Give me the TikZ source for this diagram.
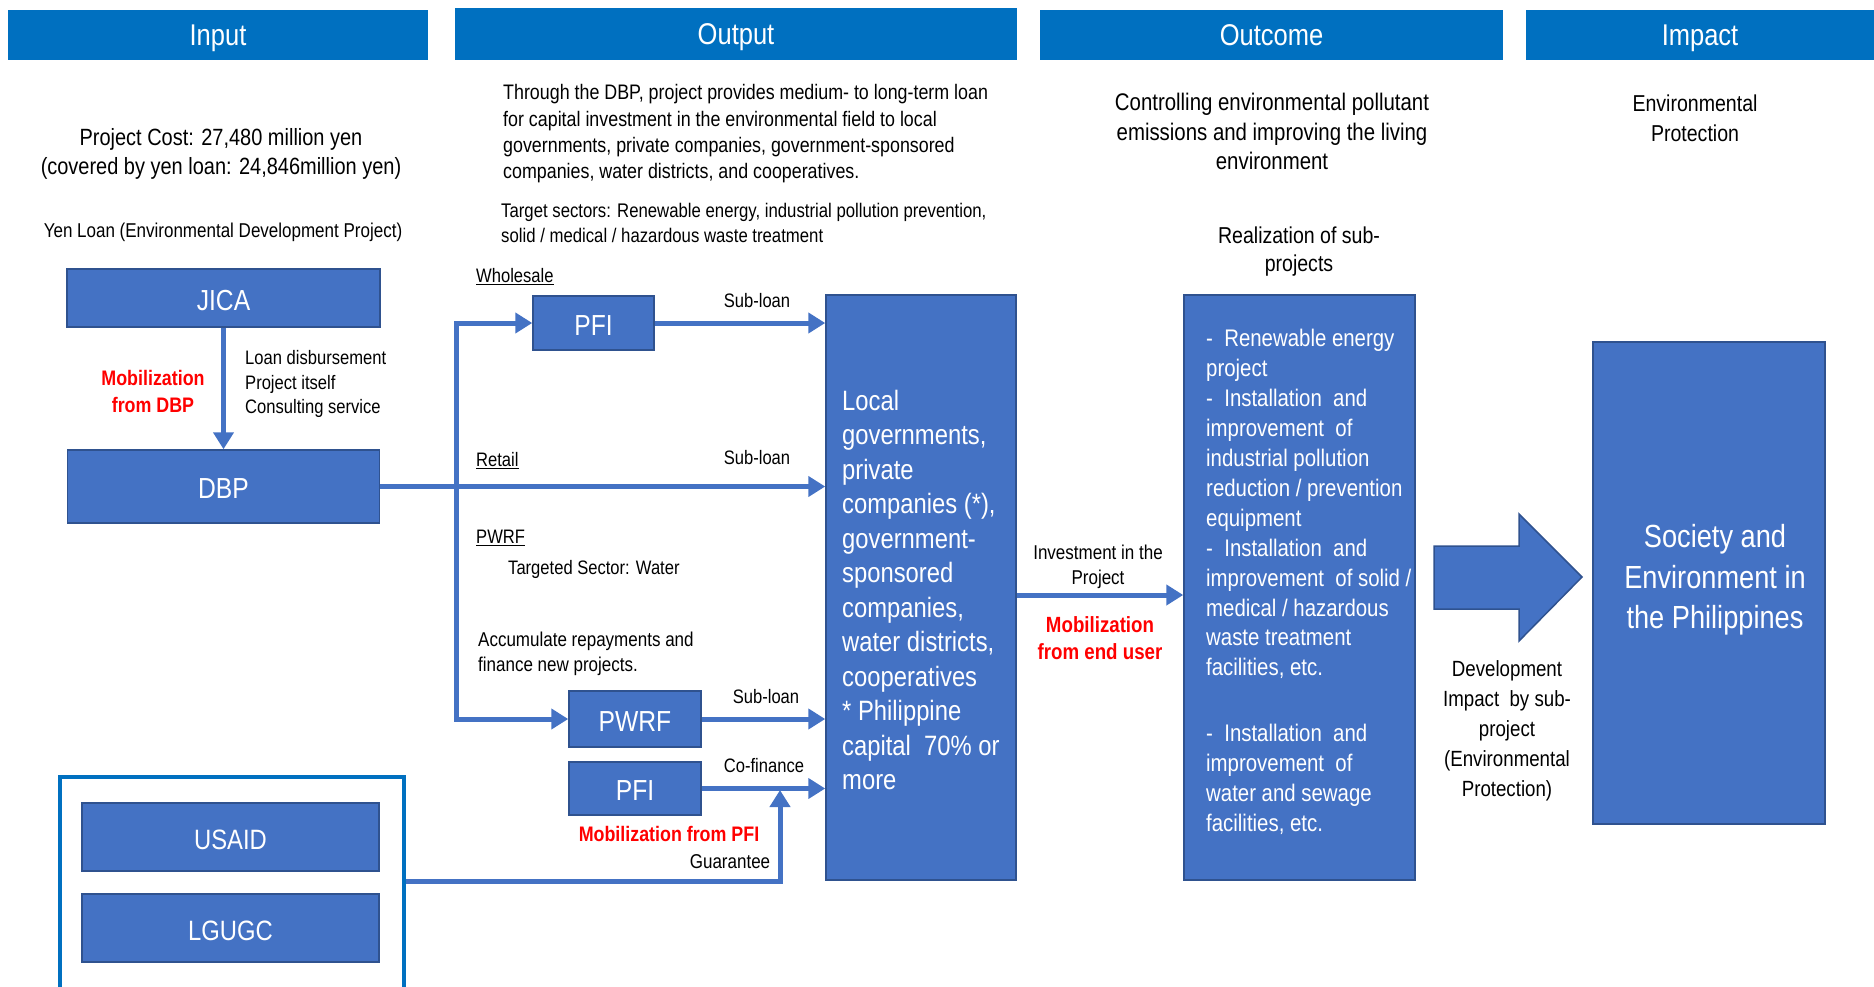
\documentclass[tikz,border=0pt]{standalone}
\usepackage{fontspec}
\setmainfont{Liberation Sans}[FakeStretch=0.85]
\usetikzlibrary{arrows.meta,calc}
\definecolor{hdrblue}{HTML}{0070C0}
\definecolor{boxblue}{HTML}{4472C4}
\definecolor{boxline}{HTML}{2F528F}
\definecolor{mobred}{HTML}{FF0000}
\newcommand\fsz[2]{\fontsize{#1pt}{#2pt}\selectfont}
\begin{document}
\begin{tikzpicture}[x=1pt,y=-1pt,
  hdr/.style={fill=hdrblue, text=white, minimum height=50pt, inner sep=0pt, text depth=0pt, font=\fsz{30}{34}},
  bx/.style={fill=boxblue, draw=boxline, line width=1.5pt, text=white, inner sep=0pt, font=\fsz{29}{34}, text depth=0pt, text height=24pt},
  plainbx/.style={fill=boxblue, draw=boxline, line width=1.5pt, inner sep=0pt},
  txt/.style={inner sep=0pt, text=black},
  mob/.style={inner sep=0pt, text=mobred, font=\fsz{21}{27}\bfseries},
  lbl/.style={inner sep=0pt, text=black, font=\fsz{19.5}{24}},
  flow/.style={draw=boxblue, line width=5pt, -{Triangle[length=17pt,width=20pt]}},
  flow2/.style={draw=boxblue, line width=5pt, {Triangle[length=17pt,width=20pt]}-{Triangle[length=17pt,width=20pt]}},
]
\useasboundingbox (0,0) rectangle (1874,986);

% headers
\node[hdr, minimum width=420pt] (hin) at (218,35) {Input};
\node[hdr, minimum width=562pt, minimum height=52pt] (hout) at (736,34) {Output};
\node[hdr, minimum width=463pt] (hoc) at (1271.5,35) {Outcome};
\node[hdr, minimum width=348pt] (him) at (1700,35) {Impact};

% input column
\node[txt, align=center, font=\fsz{23.5}{28.5}] (cost) at (221,154) {Project Cost: 27,480 million yen\\(covered by yen loan: 24,846million yen)};
\node[lbl, font=\fsz{20}{24}] (yen) at (223,232) {Yen Loan (Environmental Development Project)};
\node[bx, minimum width=313pt, minimum height=58pt] (jica) at (223.5,298) {JICA};
\node[bx, minimum width=312pt, minimum height=73pt] (dbp) at (223.5,486.5) {DBP};
\draw[flow] (jica) -- (dbp);
\node[mob, align=center] (mobdbp) at (153,391) {Mobilization\\from DBP};
\node[lbl, anchor=west, align=left, font=\fsz{19.5}{24.5}] (loan) at (245,384) {Loan disbursement\\Project itself\\Consulting service};

% output column texts
\node[txt, anchor=west, align=left, font=\fsz{21}{26.3}] (through) at (503,134) {Through the DBP, project provides medium- to long-term loan\\for capital investment in the environmental field to local\\governments, private companies, government-sponsored\\companies, water districts, and cooperatives.};
\node[txt, anchor=west, align=left, font=\fsz{19.7}{25}] (target) at (501,223) {Target sectors: Renewable energy, industrial pollution prevention,\\solid / medical / hazardous waste treatment};

\node[lbl, anchor=west] (whs) at (476,277) {\underline{Wholesale}};
\node[lbl, anchor=west] (ret) at (476,461) {\underline{Retail}};
\node[lbl, anchor=west] (pwrflbl) at (476,538) {\underline{PWRF}};
\node[lbl, anchor=west] (tsw) at (508,569) {Targeted Sector: Water};
\node[lbl, anchor=west, align=left, font=\fsz{20}{25}] (acc) at (478,654) {Accumulate repayments and\\finance new projects.};

% big target box
\node[plainbx, minimum width=190pt, minimum height=585pt] (big) at (921,587.5) {};
\node[txt, text=white, anchor=west, align=left, font=\fsz{28}{34.5}] (bigtxt) at (842,590) {Local\\governments,\\private\\companies (*),\\government-\\sponsored\\companies,\\water districts,\\cooperatives\\* Philippine\\capital~ 70\% or\\more};

% intermediaries
\node[bx, minimum width=121pt, minimum height=54pt] (pfi1) at (593.5,323) {PFI};
\node[bx, minimum width=132pt, minimum height=56pt] (pwrf) at (635,719) {PWRF};
\node[bx, minimum width=132pt, minimum height=53pt] (pfi2) at (635,788.5) {PFI};

\draw[flow2] (pfi1.west) -- ++(-76,0) |- (pwrf.west);
\draw[flow] (dbp.east) -- (dbp.east -| big.west);
\draw[flow] (pfi1.east) -- (pfi1.east -| big.west);
\draw[flow] (pwrf.east) -- (pwrf.east -| big.west);
\draw[flow] (pfi2.east) -- (pfi2.east -| big.west);

\node[lbl] (sl1) at (757,301) {Sub-loan};
\node[lbl] (sl2) at (757,458) {Sub-loan};
\node[lbl] (sl3) at (766,697) {Sub-loan};
\node[lbl] (cof) at (764,766) {Co-finance};
\node[mob] (mobpfi) at (669,834) {Mobilization from PFI};
\node[lbl, font=\fsz{20}{24}] (guar) at (730,862) {Guarantee};

% guarantors
\node[draw=hdrblue, line width=4.5pt, minimum width=344pt, minimum height=226pt, inner sep=0pt] (outer) at (232,890) {};
\node[bx, minimum width=297pt, minimum height=68pt, font=\fsz{28}{32}] (usaid) at (230.5,837) {USAID};
\node[bx, minimum width=297pt, minimum height=68pt, font=\fsz{28}{32}] (lgugc) at (230.5,928) {LGUGC};
\coordinate (gy) at (0,881);
\coordinate (gtip) at (780,790);
\draw[flow] (outer.east |- gy) -| (gtip);

% outcome column
\node[txt, align=center, font=\fsz{24}{29.5}] (octop) at (1272,131.5) {Controlling environmental pollutant\\emissions and improving the living\\environment};
\node[txt, align=center, font=\fsz{23}{28}] (real) at (1299,252) {Realization of sub-\\projects};
\node[plainbx, minimum width=231pt, minimum height=585pt] (oc) at (1299.5,587.5) {};
\node[txt, text=white, anchor=west, align=left, font=\fsz{24}{29.9}] (octxt) at (1206,582) {-~~Renewable energy\\project\\-~~Installation~ and\\improvement~ of\\industrial pollution\\reduction / prevention\\equipment\\-~~Installation~ and\\improvement~ of solid /\\medical / hazardous\\waste treatment\\facilities, etc.\\[36pt]-~~Installation~ and\\improvement~ of\\water and sewage\\facilities, etc.};

\draw[flow] ([yshift=-7.5pt]big.east) -- ([yshift=-7.5pt]oc.west);
\node[lbl, align=center, font=\fsz{20}{25}] (inv) at (1098,567) {Investment in the\\Project};
\node[mob, align=center, font=\fsz{22}{27}\bfseries] (mobend) at (1100,638) {Mobilization\\from end user};

% impact column
\node[txt, align=center, font=\fsz{23}{30}] (imptop) at (1695,118) {Environmental\\Protection};
\filldraw[fill=boxblue, draw=boxline, line width=1.5pt] (1434,546) -- (1519,546) -- (1519,514) -- (1582,577) -- (1519,641) -- (1519,609) -- (1434,609) -- cycle;
\node[txt, align=center, font=\fsz{22}{30}] (dev) at (1507,731) {Development\\Impact~ by sub-\\project\\(Environmental\\Protection)};
\node[plainbx, minimum width=232pt, minimum height=482pt] (soc) at (1709,583) {};
\node[txt, text=white, align=center, font=\fsz{32}{40.5}] (soctxt) at (1715,580) {Society and\\Environment in\\the Philippines};
\end{tikzpicture}
\end{document}
